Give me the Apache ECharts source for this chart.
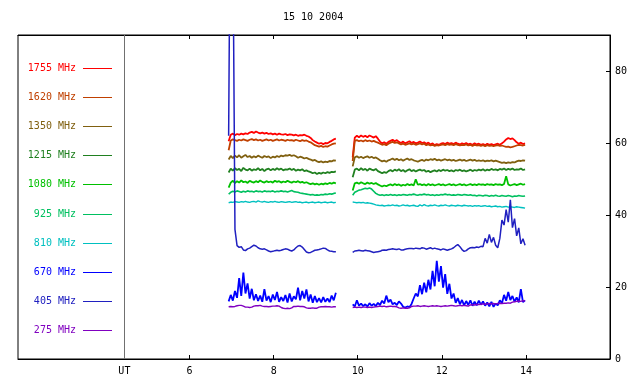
<!DOCTYPE html>
<html>
<head>
<meta charset="utf-8">
<script src="https://cdn.jsdelivr.net/npm/echarts@6/dist/echarts.min.js"></script>
<style>
  html, body { margin: 0; padding: 0; background: #fff; }
  #chart { width: 640px; height: 384px; }
</style>
</head>
<body>
<div id="chart"></div>
<script>
const title = "15 10 2004";
const freqLabels = ["1755 MHz", "1620 MHz", "1350 MHz", "1215 MHz", "1080 MHz",
                    "925 MHz", "810 MHz", "670 MHz", "405 MHz", "275 MHz"];
const hourTicks = [6, 8, 10, 12, 14];
const valueTicks = [0, 20, 40, 60, 80];
const utHour = 4.45;

// two recording stretches, one sample every 0.05 h
const startA = 6.93, startB = 9.88, stepH = 0.05;

const f1755A = [60.5, 62.3, 62.6, 62.2, 62.5, 62.3, 62.6, 62.4, 62.7, 62.5,
  62.9, 63.1, 62.8, 63.2, 62.9, 62.7, 62.9, 62.6, 62.8, 62.5,
  62.7, 62.4, 62.6, 62.3, 62.6, 62.4, 62.3, 62.5, 62.2, 62.4,
  62.3, 62.1, 62.3, 62.0, 62.2, 62.1, 62.3, 62.0, 61.8, 61.4,
  60.8, 60.4, 60.1, 59.8, 60.0, 59.7, 60.0, 59.9, 60.3, 60.6,
  61.0, 61.2];
const f1755B = [56.0, 61.5, 62.0, 61.6, 62.1, 61.7, 62.0, 61.6, 62.1, 61.8,
  61.5, 61.9, 61.2, 60.4, 59.9, 60.2, 59.8, 60.3, 60.6, 60.9,
  60.5, 60.8, 60.3, 60.0, 60.4, 59.9, 60.2, 60.5, 60.0, 60.3,
  59.9, 60.1, 60.4, 60.0, 60.2, 59.8, 60.1, 59.6, 59.9, 59.4,
  59.7, 59.5, 59.8, 60.0, 59.7, 60.1, 59.8, 60.0, 59.7, 60.1,
  59.8, 59.6, 59.9, 59.7, 60.0, 59.6, 59.8, 59.5, 59.9, 59.6,
  59.8, 59.5, 59.7, 59.4, 59.8, 59.5, 59.7, 59.4, 59.6, 59.8,
  59.5, 59.9, 60.4, 61.0, 61.4, 61.1, 61.3, 60.8, 60.2, 59.8,
  60.1, 59.7, 59.9];

const f1620A = [58.0, 60.7, 61.0, 60.8, 60.6, 60.9, 60.7, 61.0, 60.8, 60.6,
  60.9, 61.1, 60.8, 61.0, 60.7, 60.9, 60.6, 60.8, 61.0, 60.7,
  60.9, 60.6, 60.8, 61.0, 60.7, 60.9, 60.8, 60.6, 60.9, 60.7,
  60.8, 60.6, 60.9, 60.7, 60.5, 60.8, 60.6, 60.7, 60.4, 60.2,
  59.8, 59.4, 59.2, 59.0, 59.2, 58.9, 59.1, 59.0, 59.3, 59.6,
  59.8, 59.9];
const f1620B = [55.0, 60.6, 60.8, 60.5, 60.7, 60.4, 60.8, 60.5, 60.7, 60.4,
  60.6, 60.3, 60.1, 59.8, 59.5, 59.7, 59.4, 59.8, 60.1, 60.3,
  60.0, 60.2, 59.9, 59.6, 59.8, 59.5, 59.7, 59.9, 59.6, 59.8,
  59.5, 59.7, 59.9, 59.6, 59.8, 59.4, 59.6, 59.3, 59.5, 59.2,
  59.4, 59.3, 59.5, 59.6, 59.4, 59.7, 59.5, 59.6, 59.4, 59.7,
  59.5, 59.3, 59.5, 59.4, 59.6, 59.3, 59.5, 59.2, 59.5, 59.3,
  59.4, 59.2, 59.4, 59.1, 59.4, 59.2, 59.3, 59.1, 59.3, 59.4,
  59.2, 59.3, 59.1, 58.9, 59.0, 58.8, 58.9, 59.1, 59.3, 59.5,
  59.4, 59.3, 59.5];

const f1350A = [55.4, 56.4, 55.8, 56.5, 56.0, 56.6, 55.9, 56.3, 56.7, 56.1,
  56.4, 55.9, 56.3, 56.0, 56.5, 56.2, 55.9, 56.4, 56.1, 56.3,
  55.8, 56.2, 56.0, 56.4, 56.1, 56.5, 56.3, 56.6, 56.5, 56.7,
  56.4, 56.6, 56.3, 55.9, 56.2, 56.0, 55.7, 55.9, 55.6, 55.4,
  55.1, 55.3, 54.9, 54.7, 54.9, 54.6, 54.8, 54.7, 55.0, 54.9,
  55.2, 55.1];
const f1350B = [53.5, 56.0, 56.3, 55.9, 56.2, 55.8, 56.1, 56.3, 55.9, 56.2,
  55.8, 56.0, 55.6, 55.2, 54.9, 55.1, 54.8, 55.2, 55.4, 55.7,
  55.3, 55.6, 55.2, 55.5, 55.1, 55.4, 55.7, 55.3, 55.5, 55.2,
  55.0, 54.8, 55.1, 55.3, 55.0, 55.4, 55.2, 55.5, 55.3, 55.6,
  55.2, 55.4, 55.1, 55.3, 55.5, 55.2, 55.4, 55.1, 55.3, 55.0,
  55.2, 55.4, 55.1, 55.3, 55.0, 55.2, 55.4, 55.1, 55.3, 55.0,
  55.2, 55.0, 55.2, 54.9, 55.1, 55.0, 55.2, 54.9, 55.1, 54.9,
  54.7, 54.5, 54.6, 54.4, 54.6, 54.5, 54.7, 54.6, 54.9, 55.1,
  55.0, 55.2, 55.1];

const f1215A = [51.8, 52.9, 52.3, 53.0, 52.5, 52.8, 52.2, 53.1, 52.6, 52.4,
  52.9, 52.3, 52.7, 52.5, 53.0, 52.4, 52.8, 52.2, 52.7, 52.9,
  52.4, 52.8, 52.5, 53.0, 52.6, 52.9, 52.4, 52.7, 52.6, 52.9,
  52.5, 52.8, 52.3, 52.6, 52.4, 52.7, 52.2, 52.4, 52.1, 51.9,
  51.6, 51.8, 51.4, 51.7, 51.5, 51.8, 51.6, 51.9, 51.7, 52.0,
  51.9, 52.1];
const f1215B = [50.5, 52.6, 52.9, 52.4, 53.0, 52.5, 52.8, 52.3, 52.9, 52.6,
  52.4, 52.8, 52.2, 51.9, 51.6, 51.9, 51.7, 52.2, 52.5, 52.1,
  52.6, 52.3, 52.7, 52.2, 52.5, 52.0, 52.4, 52.7, 52.2, 52.5,
  52.1, 52.4, 52.6, 52.3, 52.5, 52.0, 52.3, 51.9, 52.2, 52.4,
  52.1, 52.5, 52.2, 52.6, 52.3, 52.5, 52.2, 52.4, 52.1, 52.5,
  52.3, 52.6, 52.2, 52.4, 52.1, 52.3, 52.6, 52.2, 52.5, 52.3,
  52.6, 52.4, 52.7, 52.3, 52.6, 52.4, 52.8, 52.5, 52.7, 52.4,
  52.8, 52.6, 52.9, 52.5, 52.8, 52.6, 52.9, 52.5, 52.7, 52.6,
  52.9, 52.5, 52.7];

const f1080A = [47.6, 49.0, 49.5, 48.9, 49.4, 49.0, 49.6, 49.1, 49.3, 48.9,
  49.5, 49.2, 49.0, 49.4, 49.1, 49.6, 49.2, 49.0, 49.4, 49.1,
  49.3, 49.0, 49.5, 49.2, 49.4, 49.0, 49.3, 49.1, 49.5, 49.2,
  49.0, 49.3, 49.1, 49.4, 49.0, 49.2, 48.9, 49.1, 48.8, 48.6,
  48.8, 48.5, 48.7, 48.4, 48.7, 48.5, 48.8, 48.6, 48.9, 48.7,
  49.0, 48.8];
const f1080B = [46.8, 48.8, 49.0, 48.7, 49.1, 48.8, 48.6, 49.0, 48.7, 48.9,
  48.6, 48.9, 48.5, 48.2, 47.9, 48.2, 48.0, 48.3, 48.5, 48.2,
  48.6, 48.3, 48.5, 48.1, 48.4, 48.2, 48.6, 48.3, 48.5, 48.2,
  49.9, 48.4, 48.6, 48.3, 48.5, 48.2, 48.6, 48.3, 48.5, 48.2,
  48.4, 48.6, 48.3, 48.5, 48.2, 48.4, 48.6, 48.3, 48.5, 48.2,
  48.4, 48.6, 48.3, 48.5, 48.2, 48.4, 48.6, 48.3, 48.5, 48.3,
  48.6, 48.4, 48.5, 48.3, 48.6, 48.4, 48.5, 48.3, 48.6, 48.4,
  48.5, 48.3, 48.6, 50.8, 48.5, 48.2, 48.4, 48.6, 48.3, 48.5,
  48.7, 48.4, 48.6];

const f925A = [45.8, 46.3, 46.6, 46.4, 46.7, 46.5, 46.3, 46.6, 46.4, 46.7,
  46.5, 46.6, 46.4, 46.7, 46.5, 46.6, 46.4, 46.7, 46.5, 46.6,
  46.5, 46.7, 46.4, 46.6, 46.5, 46.7, 46.5, 46.6, 46.4, 46.6,
  46.8, 46.5, 46.4, 46.3, 46.1, 46.0, 45.9, 45.8, 45.7, 45.6,
  45.7, 45.5, 45.6, 45.5, 45.7, 45.6, 45.8, 45.7, 45.9, 45.8,
  46.0, 46.1];
const f925B = [45.5, 46.3, 46.6, 46.9, 47.0, 47.2, 47.4, 47.3, 47.5, 47.2,
  46.6, 46.0, 45.7, 45.5, 45.6, 45.4, 45.6, 45.5, 45.7, 45.5,
  45.6, 45.4, 45.6, 45.5, 45.7, 45.6, 45.5, 45.7, 45.6, 45.8,
  45.6, 45.5, 45.7, 45.6, 45.8, 45.6, 45.7, 45.5, 45.6, 45.4,
  45.6, 45.5, 45.7, 45.6, 45.8, 45.6, 45.7, 45.5, 45.6, 45.5,
  45.7, 45.6, 45.5, 45.7, 45.6, 45.5, 45.6, 45.4, 45.5, 45.3,
  45.5, 45.4, 45.3, 45.5, 45.4, 45.2, 45.4, 45.3, 45.5, 45.3,
  45.2, 45.4, 45.3, 45.2, 45.4, 45.3, 45.1, 45.3, 45.2, 45.4,
  45.3, 45.2, 45.3];

const f810A = [43.4, 43.6, 43.5, 43.7, 43.6, 43.5, 43.7, 43.6, 43.8, 43.6,
  43.5, 43.7, 43.8, 43.6, 43.9, 43.7, 43.6, 43.8, 43.6, 43.5,
  43.7, 43.6, 43.8, 43.6, 43.5, 43.7, 43.6, 43.5, 43.6, 43.7,
  43.5, 43.6, 43.7, 43.5, 43.6, 43.4, 43.5, 43.6, 43.4, 43.5,
  43.6, 43.4, 43.5, 43.6, 43.4, 43.5, 43.6, 43.4, 43.5, 43.6,
  43.4, 43.5];
const f810B = [43.6, 43.5, 43.4, 43.5, 43.4, 43.5, 43.3, 43.4, 43.3, 43.2,
  43.0, 42.8, 42.7, 42.6, 42.7, 42.5, 42.6, 42.7, 42.6, 42.8,
  42.6, 42.7, 42.5, 42.6, 42.8, 42.6, 42.7, 42.5, 42.6, 42.7,
  42.5, 42.4, 42.8, 42.5, 42.9, 42.6, 42.5, 42.7, 42.6, 42.8,
  42.6, 42.5, 42.7, 42.6, 42.8, 42.6, 42.5, 42.7, 42.6, 42.5,
  42.7, 42.6, 42.5, 42.7, 42.6, 42.5, 42.6, 42.4, 42.6, 42.5,
  42.6, 42.4, 42.5, 42.6, 42.4, 42.5, 42.3, 42.4, 42.5, 42.3,
  42.4, 42.2, 42.3, 42.4, 42.2, 42.3, 42.2, 42.1, 42.3, 42.2,
  42.1, 42.0, 41.9];

const f670A = [16.0, 17.8, 16.2, 18.9, 17.0, 22.5, 17.5, 24.0, 18.2, 21.0,
  16.8, 19.5, 16.3, 18.0, 16.1, 17.6, 15.9, 19.4, 16.2, 17.5,
  15.8, 17.9, 16.4, 18.6, 15.9, 17.2, 16.1, 17.8, 15.7, 18.2,
  16.0, 17.4, 16.6, 19.8, 16.3, 18.9, 16.8, 19.3, 16.0, 17.9,
  15.6, 17.5, 15.8, 16.9, 15.7, 17.2, 15.9, 16.8, 15.8, 17.6,
  16.3, 18.4];
const f670B = [15.2, 14.6, 16.3, 14.8, 15.4, 14.7, 15.2, 14.6, 15.5, 14.8,
  15.3, 14.7, 15.6, 15.0, 16.2, 15.4, 17.6, 15.8, 16.5, 15.2,
  15.6, 15.0, 16.0, 15.4, 14.5, 14.3, 14.6, 14.4, 15.3, 16.8,
  18.2, 17.4, 20.5, 18.0, 21.2, 18.5, 22.0, 19.3, 24.5, 20.2,
  27.3, 21.5, 25.8, 19.8, 23.6, 18.1, 20.9, 16.8, 18.2, 15.6,
  16.9, 15.2, 16.4, 14.9, 16.1, 15.0, 16.3, 14.8, 15.9, 14.9,
  16.2, 15.1, 16.0, 14.8, 15.7, 14.6, 15.9, 14.5, 15.4, 14.9,
  16.3, 15.5, 17.8, 16.2, 18.6, 16.4, 17.5, 15.9, 17.1, 15.7,
  19.4, 15.8, 16.3];

const f405A = [62.0, 150.0, 120.0, 36.0, 31.5, 31.0, 31.2, 30.3, 30.1, 30.6,
  30.8, 31.2, 31.6, 31.4, 30.9, 30.6, 30.5, 30.6, 30.3, 30.0,
  29.8, 29.9, 30.1, 30.2, 30.1, 30.2, 30.4, 30.6, 30.5, 30.2,
  30.0, 30.3, 30.9, 31.4, 31.5, 31.1, 30.4, 29.7, 29.5, 29.6,
  29.9, 30.2, 30.3, 30.4, 30.6, 30.8, 30.7, 30.3, 30.0, 29.9,
  29.8, 29.8];
const f405B = [29.6, 30.0, 30.1, 30.2, 30.1, 30.0, 30.2, 30.1, 30.0, 29.8,
  29.6, 29.7, 29.8, 29.9, 30.2, 30.3, 30.2, 30.4, 30.5, 30.6,
  30.5, 30.4, 30.6, 30.3, 30.3, 30.5, 30.6, 30.7, 30.7, 30.6,
  30.8, 30.7, 30.6, 30.9, 30.8, 30.5, 30.7, 30.9, 30.6, 30.8,
  30.6, 30.5, 30.3, 30.6, 30.4, 30.2, 30.4, 30.6, 30.9, 31.4,
  31.8, 31.2, 30.4, 29.9, 30.1, 30.6, 30.9, 31.0, 30.9, 31.1,
  31.0, 31.3, 31.2, 33.5, 32.2, 34.6, 32.4, 33.8, 31.6, 30.9,
  33.5, 38.6, 37.2, 41.5, 38.0, 44.2, 36.5, 39.0, 34.2, 36.4,
  32.0, 33.4, 31.6];

const f275A = [14.5, 14.6, 14.5, 14.6, 14.8, 14.9, 14.9, 14.7, 14.4, 14.4,
  14.3, 14.4, 14.7, 14.8, 14.8, 14.9, 14.7, 14.6, 14.6, 14.5,
  14.6, 14.7, 14.7, 14.8, 14.7, 14.3, 14.1, 14.0, 14.1, 14.0,
  14.2, 14.6, 14.6, 14.7, 14.6, 14.6, 14.5, 14.2, 14.1, 14.1,
  14.2, 14.1, 14.1, 14.4, 14.5, 14.5, 14.6, 14.5, 14.5, 14.4,
  14.5, 14.5];
const f275B = [14.3, 14.4, 14.3, 14.4, 14.3, 14.4, 14.4, 14.3, 14.4, 14.3,
  14.4, 14.5, 14.6, 14.7, 14.6, 14.7, 14.5, 14.6, 14.7, 14.6,
  14.6, 14.5, 14.2, 14.1, 14.2, 14.1, 14.1, 14.2, 14.6, 14.7,
  14.7, 14.8, 14.6, 14.7, 14.8, 14.7, 14.6, 14.7, 14.8, 14.7,
  14.8, 14.7, 14.6, 14.7, 14.8, 14.7, 14.8, 14.9, 14.8, 14.7,
  14.8, 14.9, 14.8, 14.9, 14.8, 14.7, 15.0, 15.1, 15.0, 15.2,
  15.1, 15.2, 15.3, 15.2, 15.3, 15.4, 15.3, 15.4, 15.3, 15.4,
  15.5, 15.4, 15.5, 15.5, 15.6, 15.5, 15.8, 15.9, 16.0, 16.1,
  16.0, 16.2, 16.1];

const partsA = [f1755A, f1620A, f1350A, f1215A, f1080A, f925A, f810A, f670A, f405A, f275A];
const partsB = [f1755B, f1620B, f1350B, f1215B, f1080B, f925B, f810B, f670B, f405B, f275B];
const colors = ["#ff0000", "#c04000", "#806010", "#208020", "#00c000",
                "#00c060", "#00c0c0", "#0000ff", "#2020c0", "#8000c0"];
// noisy records look heavier in the original plot
const widths = [1.8, 1.8, 1.8, 1.8, 1.8, 1.6, 1.4, 1.8, 1.5, 1.4];

const mono = '"DejaVu Sans Mono", monospace';

function joinParts(a, b) {
  const out = a.map((v, i) => [+(startA + i * stepH).toFixed(2), v]);
  out.push([9.7, "-"]); // data gap
  b.forEach((v, i) => out.push([+(startB + i * stepH).toFixed(2), v]));
  return out;
}

const series = freqLabels.map((name, k) => {
  const s = {
    name: name,
    type: "line",
    symbol: "none",
    clip: true,
    z: k === 8 ? 4 : 2,
    lineStyle: { color: colors[k], width: widths[k] },
    data: joinParts(partsA[k], partsB[k]),
  };
  if (k === 0) {
    s.markLine = {
      silent: true,
      symbol: "none",
      label: { show: false },
      lineStyle: { color: "#707070", width: 1, type: "solid" },
      data: [{ xAxis: utHour }],
    };
  }
  return s;
});

// legend drawn by hand: label on the left, sample line on the right
const legendItems = [];
freqLabels.forEach((name, k) => {
  const y = Math.round(67.5 + k * 29.2);
  legendItems.push({
    type: "text",
    x: 76, y: y,
    style: {
      text: name, fill: colors[k], font: "10px " + mono,
      textAlign: "right", textVerticalAlign: "middle",
    },
  });
  legendItems.push({
    type: "line",
    shape: { x1: 83, y1: y + 0.5, x2: 112, y2: y + 0.5 },
    style: { stroke: colors[k], lineWidth: 1 },
  });
});

const chart = echarts.init(document.getElementById("chart"));
chart.setOption({
  animation: false,
  backgroundColor: "#fff",
  title: {
    text: title,
    left: 283,
    top: 12,
    padding: 0,
    textStyle: { fontFamily: mono, fontSize: 10, fontWeight: "normal", color: "#000" },
  },
  grid: {
    left: 18, right: 30, top: 35, bottom: 25,
    show: true, borderColor: "#000", borderWidth: 1,
  },
  xAxis: [
    {
      type: "value",
      position: "bottom",
      min: 1.92, max: 16,
      axisLine: { show: true, lineStyle: { color: "#000", width: 1 } },
      axisTick: { show: true, inside: true, length: 4, customValues: hourTicks,
                  lineStyle: { color: "#000" } },
      axisLabel: {
        customValues: [utHour].concat(hourTicks),
        margin: 7,
        fontFamily: mono, fontSize: 10, color: "#000",
        formatter: (v) => (v < 5 ? "UT" : String(v)),
      },
      splitLine: { show: false },
    },
    {
      type: "value",
      position: "top",
      min: 1.92, max: 16,
      axisLine: { show: true, lineStyle: { color: "#000", width: 1 } },
      axisTick: { show: true, inside: true, length: 4, customValues: hourTicks,
                  lineStyle: { color: "#000" } },
      axisLabel: { show: false },
      splitLine: { show: false },
    },
  ],
  yAxis: {
    type: "value",
    position: "right",
    min: 0, max: 90,
    axisLine: { show: true, lineStyle: { color: "#000", width: 1 } },
    axisTick: { show: true, inside: true, length: 4, customValues: valueTicks,
                lineStyle: { color: "#000" } },
    axisLabel: { customValues: valueTicks, margin: 5,
                 fontFamily: mono, fontSize: 10, color: "#000" },
    splitLine: { show: false },
  },
  graphic: legendItems,
  series: series,
});
</script>
</body>
</html>
